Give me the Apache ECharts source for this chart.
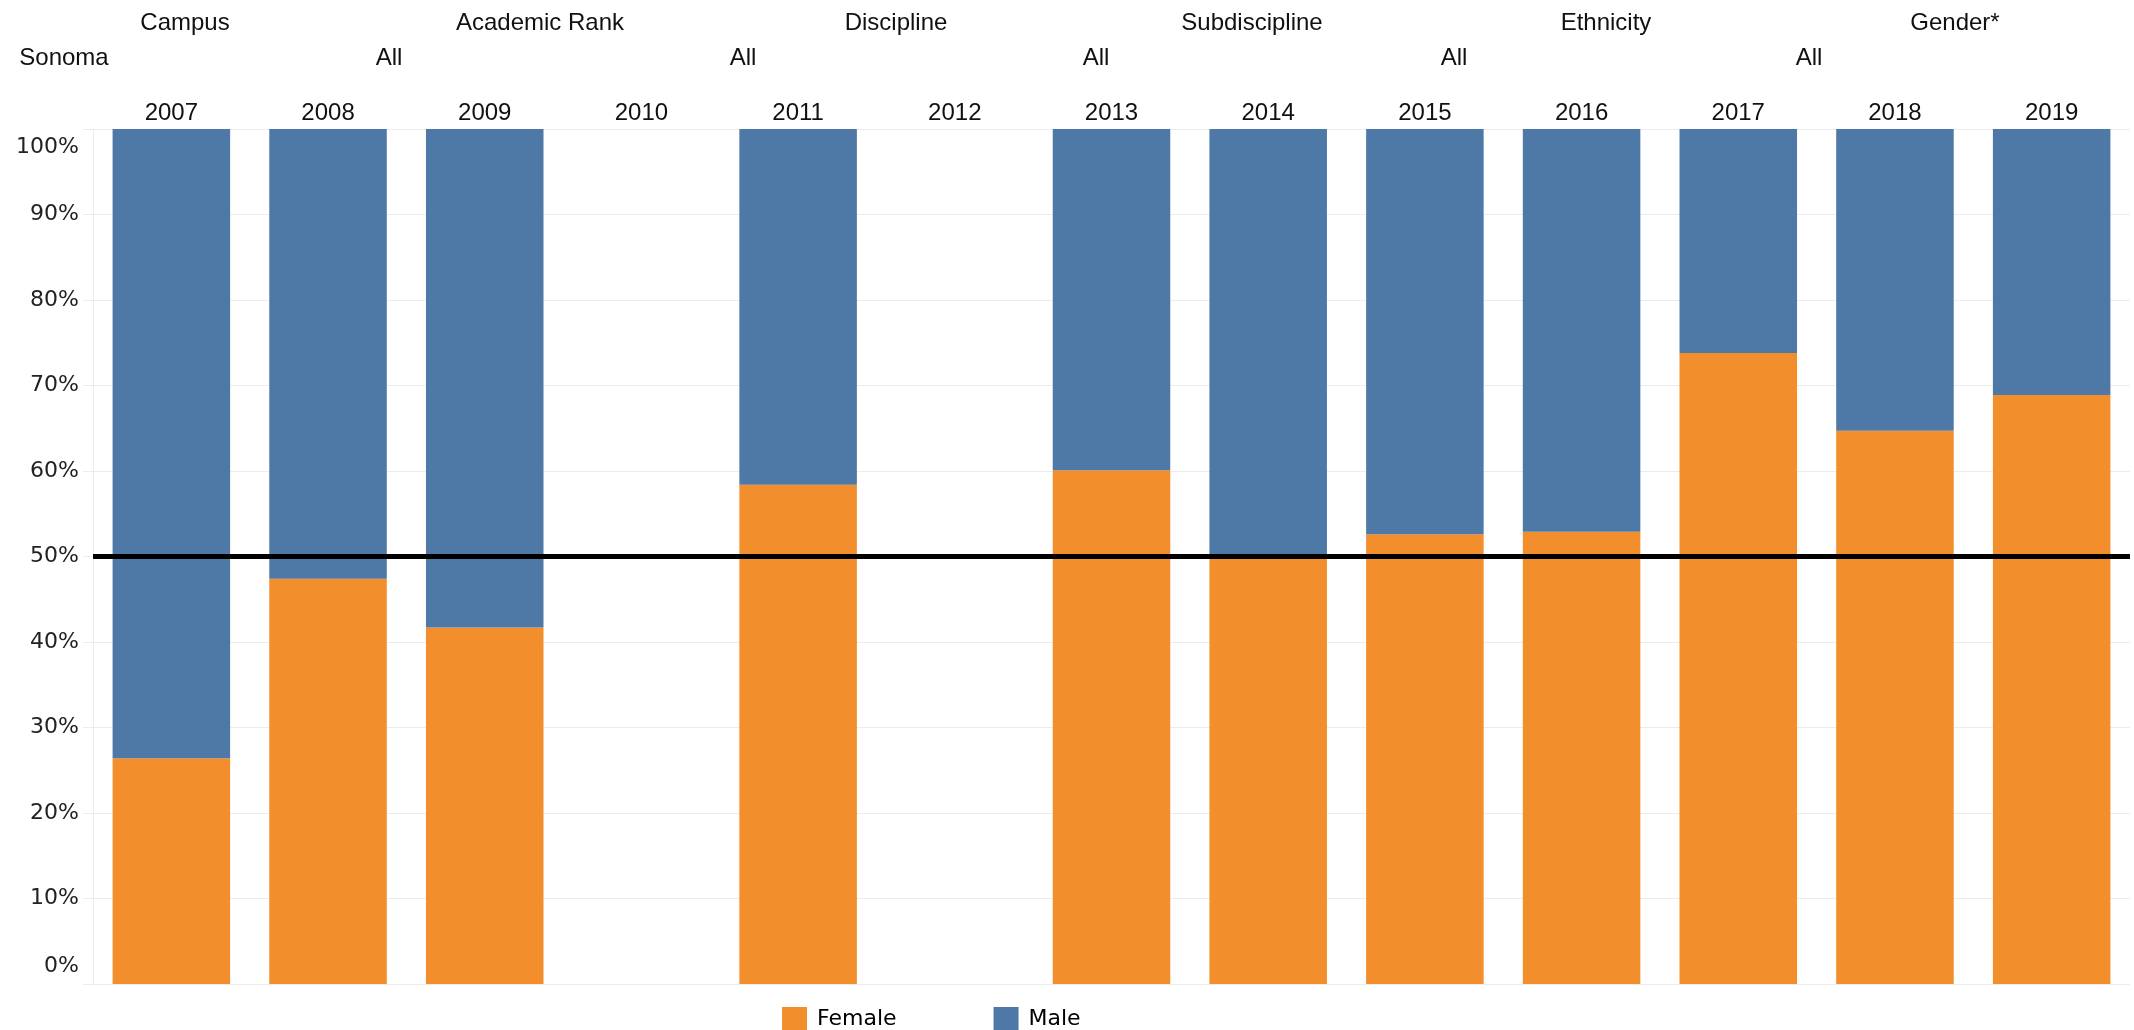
<!DOCTYPE html>
<html>
<head>
<meta charset="utf-8">
<title>Female / Male share by year</title>
<script src="https://cdn.jsdelivr.net/npm/echarts@6/dist/echarts.min.js"></script>
<style>
  html, body { margin: 0; padding: 0; background: #ffffff; }
  #chart { width: 2134px; height: 1030px; }
</style>
</head>
<body>
<div id="chart"></div>
<script>
// Years on the category axis
const years = ['2007', '2008', '2009', '2010', '2011', '2012', '2013',
               '2014', '2015', '2016', '2017', '2018', '2019'];

// Share of faculty by gender, in percent (no data for 2010 and 2012)
const female = [26.4, 47.4, 41.7, null, 58.4, null, 60.1, 49.9, 52.6, 52.9, 73.8, 64.7, 68.9];
const male   = [73.6, 52.6, 58.3, null, 41.6, null, 39.9, 50.1, 47.4, 47.1, 26.2, 35.3, 31.1];

// Parity reference line
const parityLevel = 50;

// Filter headings and their selected values
const filterNames  = ['Campus', 'Academic Rank', 'Discipline', 'Subdiscipline', 'Ethnicity', 'Gender*'];
const filterValues = ['Sonoma', 'All', 'All', 'All', 'All', 'All'];

// Header layout (x centres in px)
const nameX  = [185, 540, 896, 1252, 1606, 1955];
const valueX = [64, 389, 743, 1096, 1454, 1809];

const HEAD_FONT = '"Liberation Sans", Arial, sans-serif';
const AXIS_FONT = '"DejaVu Sans", Verdana, sans-serif';
const ORANGE = '#F28E2B';
const BLUE = '#4E79A7';
const GRID = '#ececec';
const TEXT = '#111';

const headerGraphics = [];
filterNames.forEach((t, i) => {
  headerGraphics.push({
    type: 'text', x: nameX[i], y: 23, silent: true,
    style: { text: t, fill: TEXT, font: '24px ' + HEAD_FONT, textAlign: 'center', textVerticalAlign: 'middle' }
  });
});
filterValues.forEach((t, i) => {
  headerGraphics.push({
    type: 'text', x: valueX[i], y: 58, silent: true,
    style: { text: t, fill: TEXT, font: '24px ' + HEAD_FONT, textAlign: 'center', textVerticalAlign: 'middle' }
  });
});

const chart = echarts.init(document.getElementById('chart'), null, { renderer: 'canvas' });

chart.setOption({
  backgroundColor: '#ffffff',
  animation: false,
  graphic: headerGraphics,
  grid: { left: 93, right: 4, top: 129, bottom: 46, containLabel: false },
  legend: {
    data: ['Female', 'Male'],
    left: 777, top: 1002,
    icon: 'rect',
    itemWidth: 25, itemHeight: 25, itemGap: 97,
    textStyle: { fontFamily: AXIS_FONT, fontSize: 22, color: '#000', padding: [0, 0, 0, 5] }
  },
  xAxis: {
    type: 'category',
    position: 'top',
    data: years,
    axisLine: { show: false },
    axisTick: { show: false },
    axisLabel: { color: TEXT, fontFamily: HEAD_FONT, fontSize: 24, margin: 4, interval: 0 },
    splitLine: { show: false }
  },
  yAxis: {
    type: 'value',
    min: 0, max: 100, interval: 10,
    axisLine: { show: true, lineStyle: { color: GRID, width: 1 } },
    axisTick: { show: true, length: 10, lineStyle: { color: GRID, width: 1 } },
    splitLine: { show: true, lineStyle: { color: GRID, width: 1 } },
    axisLabel: {
      margin: 14,
      color: '#222', fontFamily: AXIS_FONT, fontSize: 22,
      formatter: function (v) {
        if (v === 100) return '{t|100%}';
        if (v === 0) return '{b|0%}';
        return v + '%';
      },
      rich: {
        t: { padding: [36, 0, 0, 0], color: '#222', fontFamily: AXIS_FONT, fontSize: 22 },
        b: { padding: [0, 0, 36, 0], color: '#222', fontFamily: AXIS_FONT, fontSize: 22 }
      }
    }
  },
  series: [
    {
      name: 'Female', type: 'bar', stack: 'share',
      data: female,
      barCategoryGap: '25%',
      itemStyle: { color: ORANGE },
      markLine: {
        silent: true,
        symbol: ['none', 'none'],
        label: { show: false },
        lineStyle: { color: '#000', width: 5, type: 'solid' },
        data: [{ yAxis: parityLevel }],
        z: 10
      }
    },
    {
      name: 'Male', type: 'bar', stack: 'share',
      data: male,
      barCategoryGap: '25%',
      itemStyle: { color: BLUE }
    }
  ]
});
</script>
</body>
</html>
